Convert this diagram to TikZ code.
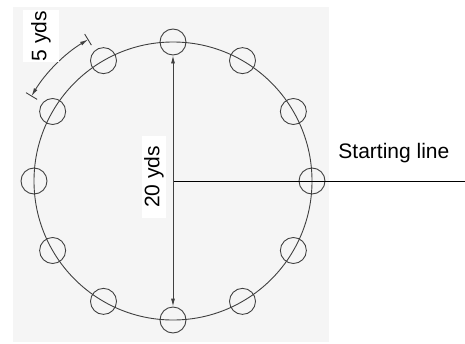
\documentclass[tikz,border=0pt]{standalone}
\usepackage{fontspec}
\setmainfont{Liberation Sans}
\usetikzlibrary{arrows.meta}

\begin{document}
\begin{tikzpicture}[x=1pt,y=1pt,line width=0.9pt,
  marker/.style={draw=black!75,circle,minimum size=26pt,inner sep=0pt},
  dimline/.style={draw=black!75,{Latex[length=8pt,width=4pt]}-{Latex[length=8pt,width=4pt]}},
  lbl/.style={fill=white,font=\fontsize{21}{25}\selectfont}]
\useasboundingbox (-173,-162) rectangle (292,181);
\fill[black!4] (-160,-161) rectangle (156,174);

\draw[black!75] (0,0) circle (139);
\foreach \k in {0,...,11}
  \node[marker] (m\k) at (\k*30:139) {};

\coordinate (o) at (0,0);
\coordinate (lineend) at (292,0);
\draw (o) -- (lineend);
\draw[dimline] (m3.south) -- (m9.north);

% 5 yds between two markers
\draw[black!75] (121:158.5) -- (121:171.5);
\draw[black!75] (149:158.5) -- (149:171.5);
\draw[dimline] (149:165) arc[start angle=149,end angle=121,radius=165];

\node[lbl,rotate=90,inner xsep=1pt,inner ysep=8pt] (five) at (-132,145) {5 yds};
\node[lbl,rotate=90,inner xsep=10pt,inner ysep=2.5pt] (twenty) at (-19,4) {20 yds};
\node[font=\fontsize{21}{25}\selectfont,anchor=base west,inner sep=0pt] (start) at (165,23) {Starting line};
\end{tikzpicture}
\end{document}
